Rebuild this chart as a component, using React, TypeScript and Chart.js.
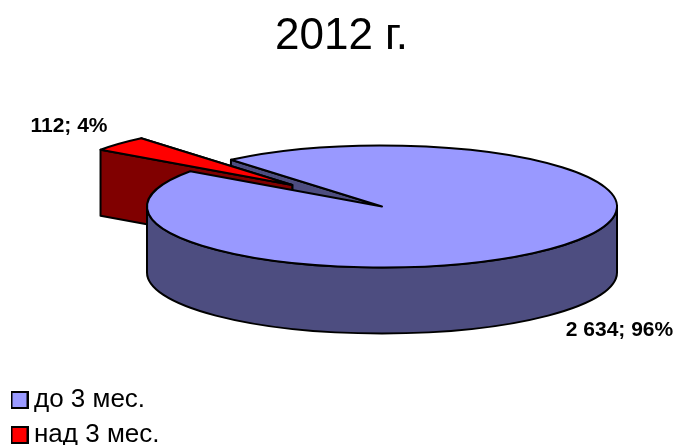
import React, { useEffect, useRef } from "react";
import { Chart, registerables } from "chart.js";

Chart.register(...registerables);

const titleText = "2012 г.";
const categories = ["до 3 мес.", "над 3 мес."];
const values = [2634, 112];
const topColors = ["#9999FF", "#FF0000"];
const sideColors = ["#4D4D80", "#800000"];
const explode = [0, 122];
const firstAngle = -40;

const FONT = "'Liberation Sans', Arial, sans-serif";
const view = { cx: 382, cy: 206.5, radius: 235, squash: 61 / 235, depth: 66 };
const labelPlaces = [
  { x: 619.5, y: 330 },
  { x: 69, y: 126 },
];

const formatValue = (v: number) => String(v).replace(/\B(?=(\d{3})+$)/g, " ");

const legendBox = (fill: string) => {
  const size = 18;
  const c = document.createElement("canvas");
  c.width = size;
  c.height = size;
  const g = c.getContext("2d")!;
  g.fillStyle = fill;
  g.strokeStyle = "#000";
  g.lineWidth = 2;
  g.fillRect(1, 1, size - 2, size - 2);
  g.strokeRect(1, 1, size - 2, size - 2);
  return c;
};

const pie3d = {
  id: "pie3d",
  beforeDatasetDraw() {
    return false;
  },
  afterDatasetsDraw(chart: any) {
    const ctx: CanvasRenderingContext2D = chart.ctx;
    const arcs = chart.getDatasetMeta(0).data;
    const { cx, cy, squash, depth } = view;

    const geom = (i: number) => {
      const a = arcs[i];
      const mid = (a.startAngle + a.endAngle) / 2;
      const off = explode[i] || 0;
      return {
        x: cx + Math.cos(mid) * off,
        y: cy + Math.sin(mid) * off * squash,
        r: a.outerRadius,
        s: a.startAngle,
        e: a.endAngle,
      };
    };
    const paint = (fill: string) => {
      ctx.fillStyle = fill;
      ctx.fill();
      ctx.strokeStyle = "#000";
      ctx.lineWidth = 2;
      ctx.lineJoin = "round";
      ctx.stroke();
    };
    const cutFace = (i: number, angle: number) => {
      const g = geom(i);
      const px = g.x + g.r * Math.cos(angle);
      const py = g.y + g.r * squash * Math.sin(angle);
      ctx.beginPath();
      ctx.moveTo(g.x, g.y);
      ctx.lineTo(px, py);
      ctx.lineTo(px, py + depth);
      ctx.lineTo(g.x, g.y + depth);
      ctx.closePath();
      paint(sideColors[i]);
    };
    const rimFace = (i: number) => {
      const g = geom(i);
      for (let k = -1; k <= 1; k++) {
        const a = Math.max(g.s, 2 * Math.PI * k);
        const b = Math.min(g.e, Math.PI + 2 * Math.PI * k);
        if (b <= a) continue;
        ctx.beginPath();
        ctx.ellipse(g.x, g.y, g.r, g.r * squash, 0, a, b);
        ctx.ellipse(g.x, g.y + depth, g.r, g.r * squash, 0, b, a, true);
        ctx.closePath();
        paint(sideColors[i]);
      }
    };
    const topFace = (i: number) => {
      const g = geom(i);
      ctx.beginPath();
      ctx.moveTo(g.x, g.y);
      ctx.ellipse(g.x, g.y, g.r, g.r * squash, 0, g.s, g.e);
      ctx.closePath();
      paint(topColors[i]);
    };

    ctx.save();
    cutFace(0, arcs[0].startAngle);
    cutFace(1, arcs[1].endAngle);
    cutFace(1, arcs[1].startAngle);
    topFace(1);
    rimFace(0);
    topFace(0);

    const total = values.reduce((p, v) => p + v, 0);
    ctx.fillStyle = "#000";
    ctx.font = `bold 21px ${FONT}`;
    ctx.textAlign = "center";
    ctx.textBaseline = "middle";
    values.forEach((v, i) => {
      const text = `${formatValue(v)}; ${Math.round((v / total) * 100)}%`;
      ctx.fillText(text, labelPlaces[i].x, labelPlaces[i].y);
    });
    ctx.restore();
  },
};

export default function App() {
  const ref = useRef<HTMLCanvasElement>(null);
  useEffect(() => {
    document.body.style.margin = "0";
    const boxes = topColors.map(legendBox);
    const chart = new Chart(ref.current!, {
      type: "pie",
      data: {
        labels: categories,
        datasets: [
          {
            data: values,
            backgroundColor: topColors,
            borderColor: "#000",
            borderWidth: 2,
            radius: view.radius,
          } as any,
        ],
      },
      options: {
        animation: false,
        responsive: false,
        rotation: firstAngle,
        layout: { padding: { left: 9, right: 3, bottom: -12 } },
        plugins: {
          title: {
            display: true,
            text: titleText,
            color: "#000",
            font: { family: FONT, size: 44, weight: "normal" },
            padding: { top: 10, bottom: 10 },
          },
          legend: {
            position: "left",
            align: "end",
            labels: {
              color: "#000",
              usePointStyle: true,
              pointStyleWidth: 3,
              padding: 9,
              font: { family: FONT, size: 26 },
              generateLabels: (c: any) =>
                c.data.labels.map((text: string, i: number) => ({
                  text,
                  fillStyle: topColors[i],
                  strokeStyle: "#000",
                  fontColor: "#000",
                  lineWidth: 2,
                  pointStyle: boxes[i],
                  hidden: false,
                  index: i,
                })),
            },
          },
          tooltip: { enabled: false },
        },
      } as any,
      plugins: [pie3d],
    });
    return () => chart.destroy();
  }, []);
  return (
    <canvas
      ref={ref}
      width={677}
      height={445}
      style={{ display: "block", position: "absolute", left: 0, top: 0 }}
    />
  );
}
